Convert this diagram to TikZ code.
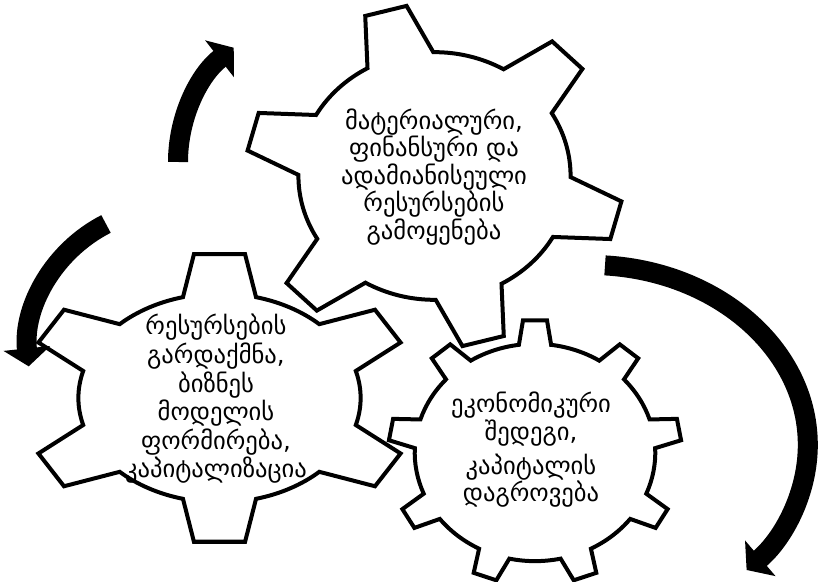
\documentclass[tikz,border=0pt]{standalone}
\usepackage{fontspec}
\newfontfamily\geofont{DejaVu Sans}
\usetikzlibrary{arrows.meta}
\tikzset{
  gearline/.style={draw=black, line width=2pt, fill=white, line join=miter},
  geartext/.style={align=center, inner sep=0pt,
    font=\geofont\fontsize{12.3}{13.8}\selectfont},
  cyclearrow/.style={-{Triangle[width=23pt,length=9pt]}, line width=10pt, draw=black}
}
% #1 centre, #2 teeth, #3 first tooth angle, #4 x radius, #5 y radius,
% #6 root ratio, #7 tip half angle, #8 root half angle
\newcommand{\geardraw}[8]{%
  \pgfmathsetmacro{\gstep}{360/#2}%
  \pgfmathtruncatemacro{\glast}{#2-1}%
  \pgfmathsetmacro{\grx}{#4*#6}%
  \pgfmathsetmacro{\gry}{#5*#6}%
  \begin{scope}[shift={#1}]
    \draw[gearline] ({#3-#8}:{\grx} and {\gry})
      \foreach \k in {0,...,\glast}{
        -- ({#3+\k*\gstep-#7}:{#4} and {#5})
        -- ({#3+\k*\gstep+#7}:{#4} and {#5})
        -- ({#3+\k*\gstep+#8}:{\grx} and {\gry})
        arc[start angle={#3+\k*\gstep+#8}, end angle={#3+(\k+1)*\gstep-#8},
            x radius=\grx, y radius=\gry]
      } -- cycle;
  \end{scope}}

\begin{document}
\begin{tikzpicture}[x=0.5pt, y=0.5pt]
  \useasboundingbox (0,0) rectangle (829,582);

  % three gears
  \geardraw{(434.5,406)}{6}{105}{189}{172}{0.72}{6.5}{14.5}
  \geardraw{(219.5,184)}{6}{90}{196}{145}{0.72}{7.5}{15}
  \geardraw{(535,129.5)}{9}{90}{146.7}{132.5}{0.82}{4.7}{7.7}

  \node[geartext] (useText) at (434,405)
    {მატერიალური,\\ფინანსური და\\ადამიანისეული\\რესურსების\\გამოყენება};
  \node[geartext, font=\geofont\fontsize{12.3}{14.3}\selectfont] (transformText) at (216,183)
    {რესურსების\\გარდაქმნა,\\ბიზნეს\\მოდელის\\ფორმირება,\\კაპიტალიზაცია};
  \node[geartext] (resultText) at (531,132)
    {ეკონომიკური\\შედეგი,\\[3pt]კაპიტალის\\დაგროვება};

  % cycle arrows
  \coordinate (upTail) at (178,420);
  \coordinate (leftTail) at (106,358);
  \coordinate (rightTail) at (605,316.6);
  \draw[cyclearrow] (upTail) arc[start angle=180, end angle=128, radius=145];
  \draw[cyclearrow] (leftTail) arc[start angle=117, end angle=186, radius=143];
  \draw[cyclearrow] (rightTail) arc[start angle=86, end angle=-44, x radius=218, y radius=180];
\end{tikzpicture}
\end{document}
